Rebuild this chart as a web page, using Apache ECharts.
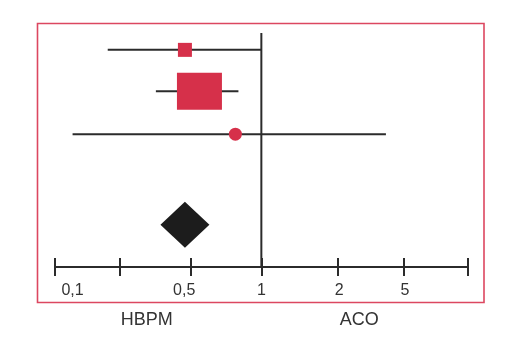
<!DOCTYPE html>
<html>
<head>
<meta charset="utf-8">
<script src="https://cdn.jsdelivr.net/npm/echarts@6/dist/echarts.min.js"></script>
<style>
  html, body { margin: 0; padding: 0; background: #fff; }
  #chart { width: 525px; height: 345px; }
</style>
</head>
<body>
<div id="chart"></div>
<script>
// schematic odds-ratio scale: 0 = OR 1 (axis units as drawn in the figure)
const tickValues = [-2.7, -1.85, -0.93, 0, 1, 1.86, 2.7];
const labelValues = [-2.47, -1.01, 0, 1.02, 1.88];
const labelTexts = ['0,1', '0,5', '1', '2', '5'];
const sideValues = [-1.5, 1.28];
const sideTexts = ['HBPM', 'ACO'];

// study rows (y position) with estimate and CI
const rows = [1, 1.98, 3];
const estimates = [-1.0, -0.81, -0.34];
const lower = [-2.01, -1.38, -2.47];
const upper = [0, -0.3, 1.63];
const markerShapes = ['rect', 'rect', 'circle'];
const markerSizes = [[14, 14], [45, 37], [13, 13]];

// pooled estimate
const pooledRow = 5.15;
const pooledEstimate = -1.0;
const refValue = 0;

const red = '#d6304a';
const ink = '#2b2b2b';

const chart = echarts.init(document.getElementById('chart'));

const series = [];
rows.forEach((r, i) => {
    series.push({
        type: 'line',
        data: [[lower[i], r], [upper[i], r]],
        symbol: 'none',
        lineStyle: { color: ink, width: 2 },
        silent: true,
        z: 2
    });
});
series.push({
    type: 'scatter',
    data: rows.map((r, i) => ({
        value: [estimates[i], r],
        symbol: markerShapes[i],
        symbolSize: markerSizes[i]
    })),
    itemStyle: { color: red, opacity: 1 },
    z: 4
});
series.push({
    type: 'scatter',
    data: [[pooledEstimate, pooledRow]],
    symbol: 'diamond',
    symbolSize: [49, 46],
    itemStyle: { color: '#1c1c1c', opacity: 1 },
    z: 4
});
series.push({
    type: 'line',
    data: [[refValue, 0.6], [refValue, 6.15]],
    symbol: 'none',
    lineStyle: { color: ink, width: 2 },
    silent: true,
    z: 3
});

const xBase = { type: 'value', min: -2.7, max: 2.7, splitLine: { show: false }, position: 'bottom' };

const option = {
    animation: false,
    grid: { left: 55, right: 57.3, top: 33, height: 234 },
    graphic: [{
        type: 'rect',
        shape: { x: 37.5, y: 23.5, width: 446.5, height: 279 },
        style: { fill: 'none', stroke: '#dc4760', lineWidth: 1.6 },
        z: 0
    }],
    xAxis: [
        Object.assign({}, xBase, {
            axisLine: { show: true, lineStyle: { color: ink, width: 2 } },
            axisTick: { show: true, customValues: tickValues, length: 9, inside: false, lineStyle: { color: ink, width: 2 } },
            axisLabel: {
                customValues: labelValues,
                formatter: v => labelTexts[labelValues.indexOf(v)],
                margin: 16,
                fontSize: 16,
                color: '#333',
                fontFamily: 'Liberation Sans'
            }
        }),
        Object.assign({}, xBase, {
            axisLine: { show: false },
            axisTick: { show: true, customValues: tickValues, length: 9, inside: true, lineStyle: { color: ink, width: 2 } },
            axisLabel: { show: false }
        }),
        Object.assign({}, xBase, {
            axisLine: { show: false },
            axisTick: { show: false },
            axisLabel: {
                customValues: sideValues,
                formatter: v => sideTexts[sideValues.indexOf(v)],
                margin: 44,
                fontSize: 18,
                color: '#333',
                fontFamily: 'Liberation Sans'
            }
        })
    ],
    yAxis: {
        type: 'value',
        min: 0.6,
        max: 6.15,
        inverse: true,
        show: false,
        splitLine: { show: false }
    },
    series: series
};

chart.setOption(option);
</script>
</body>
</html>
